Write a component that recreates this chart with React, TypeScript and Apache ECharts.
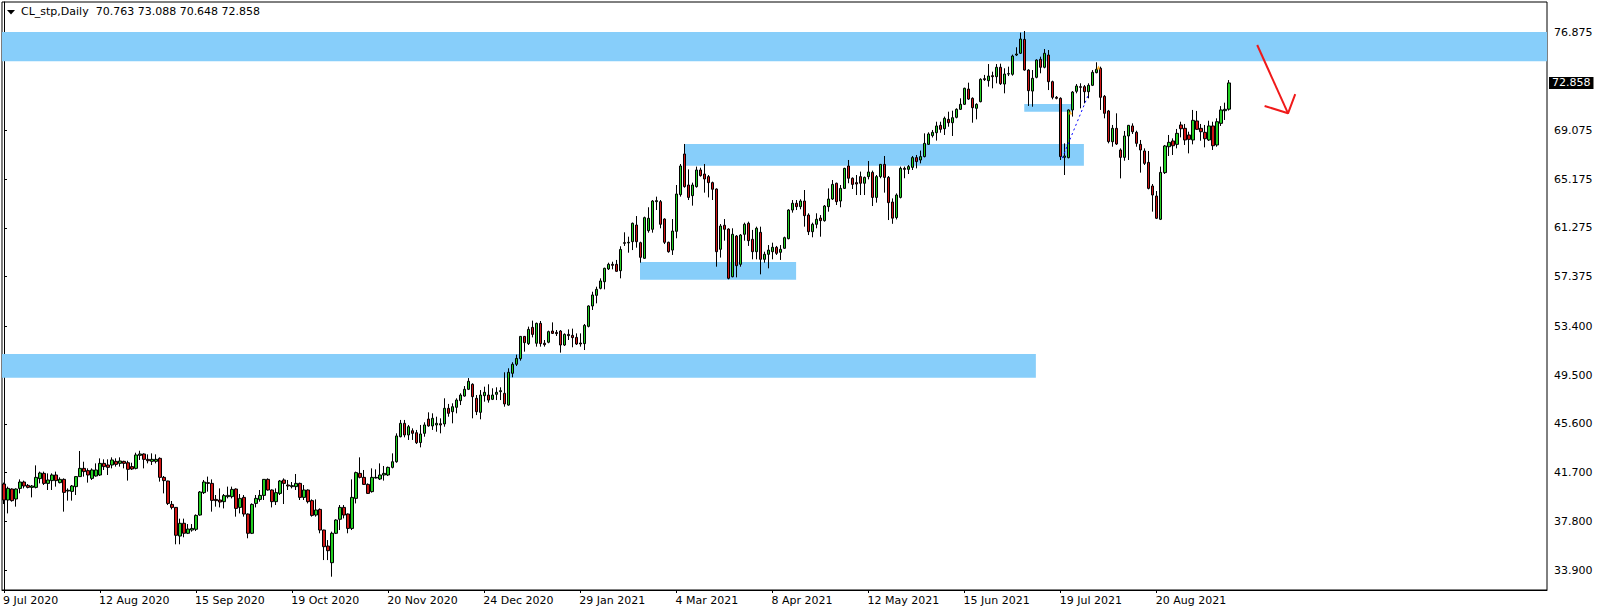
import React, { useEffect, useRef } from 'react';
import * as echarts from 'echarts';

// ---------- categories ----------
const START_DATE = '2020-07-09';
const NON_TRADING_DAYS = ['2020-12-25', '2021-01-01', '2021-04-02'];
const MONTHS = ['Jan', 'Feb', 'Mar', 'Apr', 'May', 'Jun', 'Jul', 'Aug', 'Sep', 'Oct', 'Nov', 'Dec'];
const SLOT_COUNT = 386; // bars that fit across the chart window
const LABEL_EVERY = 24;

// ---------- daily bars [open, high, low, close] ----------
const bars09Jul2020 = [
  [40.80, 40.91, 39.20, 39.52], [39.52, 40.59, 38.45, 40.45], [40.40, 40.45, 39.39, 39.47], [39.60, 40.45, 38.99, 40.40],
  [40.45, 41.17, 40.05, 40.96], [40.96, 41.07, 40.45, 40.64], [40.69, 40.80, 40.45, 40.53], [40.53, 40.72, 39.73, 40.64],
  [40.53, 42.29, 40.45, 41.33], [41.23, 41.79, 40.85, 41.68], [41.65, 41.79, 40.72, 40.85], [40.85, 41.65, 40.32, 41.12],
  [41.07, 41.65, 40.32, 41.52], [41.52, 41.79, 40.59, 41.07], [40.91, 41.33, 40.85, 41.17], [41.17, 41.25, 38.59, 40.13],
  [40.24, 40.45, 39.47, 40.30], [40.21, 40.72, 39.47, 40.64], [40.59, 41.44, 39.92, 41.39], [41.39, 43.44, 41.39, 42.05],
  [42.05, 42.58, 41.39, 41.79], [41.87, 42.05, 40.91, 41.52], [41.25, 42.05, 41.12, 41.92], [41.44, 42.45, 41.39, 41.92],
];
const bars12Aug2020 = [
  [41.52, 42.85, 41.44, 42.45], [42.45, 42.77, 41.92, 42.19], [42.32, 42.77, 41.52, 42.13], [42.32, 42.93, 42.05, 42.72],
  [42.61, 42.85, 42.19, 42.37], [42.45, 42.93, 42.19, 42.64], [42.61, 42.66, 42.05, 42.45], [42.50, 42.66, 41.07, 41.97],
  [42.19, 42.50, 41.92, 42.00], [42.05, 43.30, 41.97, 43.12], [43.09, 43.46, 42.72, 43.20], [43.20, 43.25, 42.05, 42.77],
  [42.77, 43.17, 42.45, 42.66], [42.61, 43.25, 42.32, 42.77], [42.61, 43.17, 42.45, 42.77], [42.85, 42.93, 40.99, 41.33],
  [41.33, 41.44, 40.05, 41.07], [41.04, 41.06, 39.12, 39.25], [39.17, 39.44, 38.77, 38.93], [38.93, 38.95, 35.98, 36.70],
  [36.64, 38.03, 35.98, 37.66], [37.66, 38.03, 36.54, 36.86], [36.86, 37.60, 36.80, 37.20], [37.12, 37.60, 36.99, 37.25],
];
const bars15Sep2020 = [
  [37.18, 38.37, 37.04, 38.29], [38.32, 40.24, 38.27, 40.16], [40.11, 41.12, 40.00, 40.96], [40.91, 41.39, 40.19, 40.85],
  [40.85, 41.17, 38.59, 39.49], [39.57, 39.92, 38.99, 39.47], [39.52, 40.45, 38.93, 39.36], [39.39, 40.00, 38.85, 39.87],
  [39.79, 40.59, 39.65, 39.89], [39.79, 40.59, 39.65, 40.37], [40.40, 40.45, 38.19, 38.85], [38.93, 40.00, 38.45, 39.65],
  [39.73, 39.92, 38.19, 38.40], [38.40, 38.45, 36.46, 36.86], [36.86, 39.25, 36.80, 39.17], [39.25, 39.92, 38.93, 39.65],
  [39.57, 40.32, 39.39, 39.89], [39.89, 41.19, 39.52, 41.17], [41.17, 41.25, 40.27, 40.32], [40.32, 40.37, 38.93, 39.39],
  [39.39, 40.45, 39.12, 40.11], [40.05, 41.12, 39.92, 41.04], [41.12, 41.25, 39.20, 40.85], [40.72, 41.12, 40.32, 40.64],
];
const bars19Oct2020 = [
  [40.59, 40.96, 40.45, 40.67], [40.59, 41.60, 40.32, 40.85], [40.85, 40.91, 39.52, 39.73], [39.73, 40.72, 39.52, 40.32],
  [40.32, 40.37, 39.25, 39.39], [39.47, 39.57, 38.19, 38.29], [38.32, 39.57, 38.19, 38.72], [38.77, 38.85, 36.86, 37.12],
  [37.12, 37.14, 34.72, 35.79], [35.84, 36.32, 34.72, 35.47], [34.51, 36.99, 33.39, 36.86], [36.86, 37.98, 36.80, 37.92],
  [37.98, 39.12, 37.12, 38.93], [38.93, 39.12, 38.05, 38.32], [38.40, 38.45, 36.86, 37.25], [37.25, 41.17, 37.12, 39.73],
  [39.65, 41.79, 39.25, 41.71], [41.65, 42.93, 41.25, 41.33], [41.33, 41.92, 40.72, 40.77], [40.77, 40.85, 40.00, 40.05],
  [40.19, 42.05, 40.11, 41.33], [41.28, 41.97, 41.25, 41.33], [41.20, 42.45, 41.12, 41.52], [41.52, 42.24, 41.07, 41.65],
];
const bars20Nov2020 = [
  [41.52, 42.19, 41.44, 42.13], [42.13, 43.25, 42.05, 42.58], [42.58, 44.85, 42.50, 44.64], [44.58, 45.92, 44.53, 45.65],
  [45.65, 45.92, 44.53, 44.72], [44.72, 45.52, 44.32, 45.38], [45.06, 45.25, 44.32, 44.85], [44.90, 45.12, 44.00, 44.10],
  [44.11, 45.52, 43.73, 44.80], [44.85, 45.73, 44.58, 45.52], [45.99, 46.53, 45.38, 45.44], [45.44, 46.45, 45.12, 46.05],
  [45.52, 46.18, 44.98, 45.65], [45.62, 46.05, 44.85, 45.52], [45.60, 47.65, 45.38, 46.85], [46.85, 47.20, 46.18, 46.45],
  [46.58, 47.25, 45.65, 46.98], [46.93, 47.65, 46.45, 47.51], [47.46, 48.05, 47.11, 47.91], [47.83, 48.63, 47.78, 48.37],
  [48.37, 49.27, 48.31, 49.01], [48.77, 48.85, 46.05, 47.78], [47.65, 47.91, 46.31, 46.58], [46.53, 48.31, 45.97, 47.91],
];
const bars24Dec2020 = [
  [47.86, 48.58, 47.38, 48.13], [47.91, 48.77, 47.30, 47.51], [47.57, 48.45, 47.51, 47.91], [47.97, 48.53, 47.51, 48.13],
  [48.18, 48.53, 47.51, 48.26], [48.05, 49.73, 46.98, 47.20], [47.11, 50.05, 47.06, 49.73], [49.65, 50.53, 49.33, 50.37],
  [50.37, 51.14, 50.23, 50.84], [50.82, 52.63, 50.66, 52.60], [52.60, 52.63, 51.38, 52.10], [52.02, 53.38, 51.91, 53.16],
  [53.32, 53.86, 52.52, 52.76], [52.05, 53.70, 51.78, 53.64], [53.64, 53.83, 51.78, 52.02], [52.05, 52.31, 51.78, 51.94],
  [52.13, 53.06, 52.05, 52.98], [53.03, 53.72, 52.79, 52.84], [52.92, 53.11, 52.63, 52.82], [53.03, 53.11, 51.30, 51.91],
  [51.91, 52.84, 51.83, 52.76], [52.76, 53.16, 52.31, 52.66], [52.68, 53.22, 51.73, 52.50], [52.52, 52.84, 51.91, 51.99],
];
const bars29Jan2021 = [
  [52.07, 52.84, 51.78, 51.99], [52.02, 53.59, 51.51, 53.48], [53.40, 55.08, 53.32, 55.03], [55.03, 56.17, 54.71, 55.91],
  [55.88, 56.57, 55.24, 56.36], [56.44, 57.24, 56.36, 57.03], [56.97, 58.09, 56.36, 58.04], [57.99, 58.49, 57.91, 58.36],
  [58.36, 58.57, 57.96, 58.28], [58.36, 58.71, 57.77, 57.80], [57.85, 59.80, 57.24, 59.55], [60.09, 60.92, 59.83, 60.04],
  [60.07, 60.57, 59.29, 60.12], [60.17, 61.70, 59.50, 61.64], [61.50, 62.22, 59.69, 60.17], [60.09, 60.17, 58.49, 58.92],
  [58.84, 62.17, 58.80, 62.09], [61.05, 62.92, 60.89, 62.04], [61.16, 63.50, 60.89, 63.42], [63.37, 63.77, 62.70, 63.45],
  [63.37, 63.50, 61.24, 61.56], [61.98, 62.04, 59.98, 60.12], [60.12, 60.17, 59.29, 59.37], [59.50, 61.98, 59.11, 61.02],
];
const bars04Mar2021 = [
  [61.00, 64.70, 60.44, 63.98], [63.93, 66.38, 63.77, 66.22], [67.18, 67.98, 64.49, 64.57], [64.70, 65.95, 63.50, 63.71],
  [63.85, 64.89, 63.05, 64.70], [64.57, 66.17, 64.49, 65.90], [65.90, 66.08, 65.37, 65.45], [65.58, 66.38, 64.09, 65.18],
  [65.37, 65.50, 63.71, 64.89], [64.89, 64.97, 63.50, 64.36], [64.38, 64.43, 58.17, 59.37], [59.56, 61.58, 58.90, 61.42],
  [61.48, 61.98, 60.25, 61.16], [61.18, 61.24, 57.16, 57.24], [57.37, 61.24, 57.32, 60.76], [60.62, 60.70, 57.32, 58.25],
  [58.36, 60.78, 58.17, 60.70], [60.76, 61.69, 60.25, 61.56], [61.64, 61.77, 59.83, 60.25], [60.36, 61.11, 58.76, 59.37],
  [59.37, 61.37, 58.76, 61.24], [60.92, 61.37, 57.56, 58.76], [58.76, 59.37, 58.49, 59.16], [59.16, 59.90, 58.04, 59.50],
];
const bars08Apr2021 = [
  [59.37, 60.09, 58.76, 59.72], [59.72, 59.83, 59.11, 59.24], [59.32, 59.90, 58.71, 59.56], [59.64, 60.57, 59.60, 60.49],
  [60.41, 62.76, 60.36, 62.70], [62.70, 63.50, 62.49, 63.24], [63.24, 63.50, 62.70, 62.97], [62.97, 63.56, 62.76, 63.42],
  [63.42, 64.30, 61.37, 62.25], [62.30, 62.44, 60.70, 60.97], [60.97, 61.69, 60.52, 61.56], [61.56, 62.44, 61.24, 61.96],
  [62.06, 62.30, 60.57, 61.85], [61.85, 63.10, 61.77, 63.02], [62.97, 64.43, 62.57, 63.58], [63.58, 65.10, 63.50, 64.75],
  [64.84, 64.89, 63.10, 63.37], [63.42, 64.70, 62.92, 64.43], [64.43, 66.08, 64.38, 66.03], [66.22, 66.70, 64.84, 65.24],
  [65.24, 65.31, 64.38, 64.75], [64.89, 65.50, 63.90, 64.78], [65.37, 65.77, 63.90, 64.84], [64.84, 65.37, 63.90, 65.31],
];
const bars12May2021 = [
  [65.37, 66.62, 65.15, 65.74], [65.71, 65.85, 63.02, 63.71], [63.71, 65.50, 63.29, 65.37], [65.37, 66.38, 65.24, 66.35],
  [66.35, 67.02, 64.09, 65.31], [65.31, 65.42, 61.90, 63.29], [63.34, 63.63, 61.60, 62.05], [62.10, 64.03, 61.95, 63.90],
  [63.71, 66.17, 63.63, 66.03], [66.03, 66.17, 65.24, 65.95], [65.95, 66.30, 65.58, 66.17], [66.11, 67.02, 65.90, 66.89],
  [66.89, 67.10, 66.03, 66.57], [66.70, 67.45, 66.43, 66.97], [66.97, 68.83, 66.91, 68.03], [67.95, 68.91, 67.90, 68.78],
  [68.65, 69.10, 68.50, 68.91], [68.88, 69.76, 68.25, 69.42], [69.47, 69.76, 68.88, 69.15], [69.20, 70.17, 68.70, 70.03],
  [69.95, 70.56, 69.36, 69.68], [69.68, 70.64, 68.62, 70.08], [70.11, 70.83, 70.03, 70.75], [70.75, 71.63, 70.70, 71.15],
];
const bars15Jun2021 = [
  [71.15, 72.48, 71.10, 72.43], [72.37, 72.88, 71.50, 71.57], [71.63, 71.71, 69.68, 70.88], [70.83, 71.23, 69.95, 71.15],
  [71.36, 73.23, 71.31, 73.15], [73.20, 73.50, 73.02, 73.12], [73.04, 74.37, 72.56, 73.41], [73.44, 73.76, 72.43, 73.36],
  [73.36, 74.37, 72.83, 74.11], [74.11, 74.40, 72.70, 72.80], [72.77, 74.03, 72.03, 73.57], [73.57, 74.16, 73.41, 73.60],
  [73.55, 75.12, 73.44, 75.01], [75.09, 75.71, 75.01, 75.17], [75.23, 76.88, 75.17, 76.37], [76.34, 77.01, 73.84, 73.89],
  [73.89, 73.95, 71.02, 72.24], [72.21, 73.89, 70.96, 73.23], [73.31, 74.75, 73.23, 74.69], [74.75, 74.96, 73.63, 74.11],
  [74.11, 75.57, 74.03, 75.23], [75.09, 75.49, 72.29, 72.96], [72.96, 73.04, 71.55, 71.71], [71.71, 71.81, 71.55, 71.63],
];
const bars19Jul2021 = [
  [71.63, 71.71, 66.70, 66.97], [66.91, 68.03, 65.50, 67.02], [66.89, 70.75, 66.83, 70.70], [70.70, 72.21, 70.17, 72.13],
  [72.19, 72.77, 72.03, 72.61], [72.56, 72.83, 70.83, 72.51], [72.56, 72.69, 71.23, 72.16], [72.16, 72.83, 71.63, 72.67],
  [72.67, 73.89, 72.61, 73.71], [73.68, 74.51, 73.63, 73.95], [74.03, 74.16, 70.70, 71.71], [71.79, 71.89, 70.03, 70.43],
  [70.62, 70.70, 68.03, 68.17], [68.16, 69.50, 67.76, 69.23], [69.23, 70.43, 67.90, 67.98], [67.50, 67.63, 65.23, 66.91],
  [66.91, 69.02, 66.64, 68.62], [68.62, 69.50, 66.70, 69.47], [69.42, 69.63, 68.78, 68.96], [68.91, 69.04, 67.76, 68.03],
  [67.95, 68.30, 65.69, 67.50], [67.42, 67.63, 66.30, 66.43], [66.51, 67.42, 64.35, 64.43], [64.62, 64.78, 62.57, 63.90],
];
const bars20Aug2021 = [
  [63.82, 64.22, 61.98, 62.04], [61.96, 66.17, 61.90, 65.71], [65.69, 67.90, 65.58, 67.82], [67.76, 68.70, 67.02, 68.11],
  [68.22, 68.43, 67.10, 67.84], [67.95, 69.18, 67.63, 68.83], [69.50, 69.76, 68.51, 69.20], [69.23, 69.58, 67.90, 68.30],
  [68.70, 68.96, 67.23, 68.35], [68.30, 70.70, 67.95, 69.87], [69.82, 70.62, 69.10, 69.15], [69.23, 69.58, 68.24, 68.96],
  [68.91, 69.50, 67.71, 68.40], [68.30, 69.84, 68.22, 69.42], [69.42, 69.76, 67.50, 67.84], [67.90, 70.03, 67.76, 69.76],
  [69.63, 71.01, 69.42, 70.70], [70.64, 71.28, 69.90, 70.75], [70.763, 73.088, 70.648, 72.858],
];

// ---------- price scale ----------
const PRICE_MIN = 32.327;
const PRICE_MAX = 79.329;
const priceTicks = [33.9, 37.8, 41.7, 45.6, 49.5, 53.4, 57.375, 61.275, 65.175, 69.075, 76.875];

// ---------- drawn objects, in [fromBar, toBar, lowPrice, highPrice] ----------
const zones = [
  [-0.5, 385.5, 74.59, 76.93],
  [169.95, 269.8, 66.24, 67.98],
  [158.9, 197.9, 57.13, 58.545],
  [-0.5, 257.8, 49.3, 51.19],
  [254.9, 267.0, 70.56, 71.175],
];
const tradeLine = [[264.4, 66.85], [270.9, 71.9]];
const tradeMarks = [[266.4, 70.5], [273.45, 74.1]];
const arrowShaft = [[313.1, 75.89], [320.8, 70.43]];
const arrowHead = [[314.95, 71.02], [320.8, 70.43], [322.6, 71.97]];

const SYMBOL = 'CL_stp,Daily';

function buildDates(count: number): string[] {
  const out: string[] = [];
  const d = new Date(START_DATE + 'T00:00:00Z');
  while (out.length < count) {
    const dow = d.getUTCDay();
    const iso = d.toISOString().slice(0, 10);
    if (dow !== 0 && dow !== 6 && !NON_TRADING_DAYS.includes(iso)) {
      out.push(`${d.getUTCDate()} ${MONTHS[d.getUTCMonth()]} ${d.getUTCFullYear()}`);
    }
    d.setUTCDate(d.getUTCDate() + 1);
  }
  return out;
}

export default function App() {
  const ref = useRef<HTMLDivElement>(null);

  useEffect(() => {
    if (!ref.current) return;
    const chart = echarts.init(ref.current, null, { renderer: 'svg' });

    const bars = [
      ...bars09Jul2020, ...bars12Aug2020, ...bars15Sep2020, ...bars19Oct2020, ...bars20Nov2020,
      ...bars24Dec2020, ...bars29Jan2021, ...bars04Mar2021, ...bars08Apr2021, ...bars12May2021,
      ...bars15Jun2021, ...bars19Jul2021, ...bars20Aug2021,
    ];
    const barCount = bars.length;
    const dates = buildDates(barCount);
    const categories = dates.concat(new Array(SLOT_COUNT - barCount).fill(''));
    const candleData = bars.map(([o, h, l, c]) => [o, c, l, h]);
    const last = bars[barCount - 1];
    const lastClose = last[3];
    const header = `${SYMBOL}  ${last.map((v) => v.toFixed(3)).join(' ')}`;
    const showLabel = (idx: number) => idx < barCount && idx % LABEL_EVERY === 0;

    const font = 'DejaVu Sans';

    const option: any = {
      animation: false,
      backgroundColor: '#ffffff',
      textStyle: { fontFamily: font },
      grid: {
        left: 1.5,
        top: 2,
        width: 1545.5,
        height: 588,
        show: true,
        borderColor: '#000',
        borderWidth: 1,
        backgroundColor: 'transparent',
      },
      graphic: [
        {
          type: 'polygon',
          shape: { points: [[7, 10], [15, 10], [11, 14.5]] },
          style: { fill: '#000' },
        },
        {
          type: 'text',
          left: 21,
          top: 6,
          style: { text: header, fill: '#000', font: `11px "${font}"` },
        },
      ],
      xAxis: [
        {
          type: 'category',
          data: categories,
          boundaryGap: true,
          axisLine: { show: true, lineStyle: { color: '#000', width: 1 } },
          axisTick: {
            show: true,
            alignWithLabel: true,
            length: 3,
            interval: (idx: number) => showLabel(idx),
            lineStyle: { color: '#000' },
          },
          axisLabel: {
            show: true,
            interval: (idx: number) => showLabel(idx),
            align: 'left',
            margin: 5,
            color: '#000',
            fontSize: 11,
            fontFamily: font,
            padding: [0, 0, 0, -1],
          },
          splitLine: { show: false },
        },
        { type: 'value', min: -0.5, max: SLOT_COUNT - 0.5, show: false },
      ],
      yAxis: {
        type: 'value',
        position: 'right',
        min: PRICE_MIN,
        max: PRICE_MAX,
        axisLine: { show: true, lineStyle: { color: '#000', width: 1 } },
        axisTick: { show: true, length: 3, customValues: priceTicks, lineStyle: { color: '#000' } },
        axisLabel: {
          customValues: priceTicks,
          formatter: (v: number) => v.toFixed(3),
          margin: 7,
          color: '#000',
          fontSize: 11,
          fontFamily: font,
        },
        splitLine: { show: false },
      },
      series: [
        {
          type: 'line',
          name: 'zones',
          xAxisIndex: 1,
          data: [],
          z: 1,
          silent: true,
          markArea: {
            silent: true,
            itemStyle: { color: '#87cefa', borderWidth: 0 },
            data: zones.map(([x0, x1, y0, y1]) => [
              { coord: [x0, y0] },
              { coord: [x1, y1] },
            ]),
          },
        },
        {
          type: 'candlestick',
          name: 'CL',
          xAxisIndex: 0,
          data: candleData,
          barWidth: 3,
          z: 3,
          itemStyle: {
            color: '#22d022',
            color0: '#d01414',
            borderColor: '#000',
            borderColor0: '#000',
            borderWidth: 1,
          },
          markLine: {
            silent: true,
            symbol: ['none', 'none'],
            precision: 3,
            lineStyle: { color: 'transparent', width: 0 },
            label: {
              show: true,
              position: 'end',
              distance: 2,
              formatter: () => lastClose.toFixed(3),
              backgroundColor: '#000',
              color: '#fff',
              padding: [1, 3, 0, 3],
              fontSize: 11,
              fontFamily: font,
            },
            data: [{ yAxis: lastClose }],
          },
        },
        {
          type: 'line',
          name: 'trade',
          xAxisIndex: 1,
          data: tradeLine,
          z: 4,
          symbol: 'none',
          silent: true,
          lineStyle: { color: '#0000ff', width: 1, type: [2, 3] },
        },
        {
          type: 'scatter',
          name: 'marks',
          xAxisIndex: 1,
          data: tradeMarks,
          z: 4,
          symbol: 'triangle',
          symbolSize: 4,
          silent: true,
          itemStyle: { color: '#ffa500' },
        },
        {
          type: 'line',
          name: 'arrowShaft',
          xAxisIndex: 1,
          data: arrowShaft,
          z: 5,
          symbol: 'none',
          silent: true,
          lineStyle: { color: '#f01a1a', width: 2 },
        },
        {
          type: 'line',
          name: 'arrowHead',
          xAxisIndex: 1,
          data: arrowHead,
          z: 5,
          symbol: 'none',
          silent: true,
          lineStyle: { color: '#f01a1a', width: 2 },
        },
      ],
    };

    chart.setOption(option);
    return () => chart.dispose();
  }, []);

  return (
    <div
      ref={ref}
      style={{ position: 'fixed', left: 0, top: 0, width: 1604, height: 614, background: '#fff' }}
    />
  );
}
